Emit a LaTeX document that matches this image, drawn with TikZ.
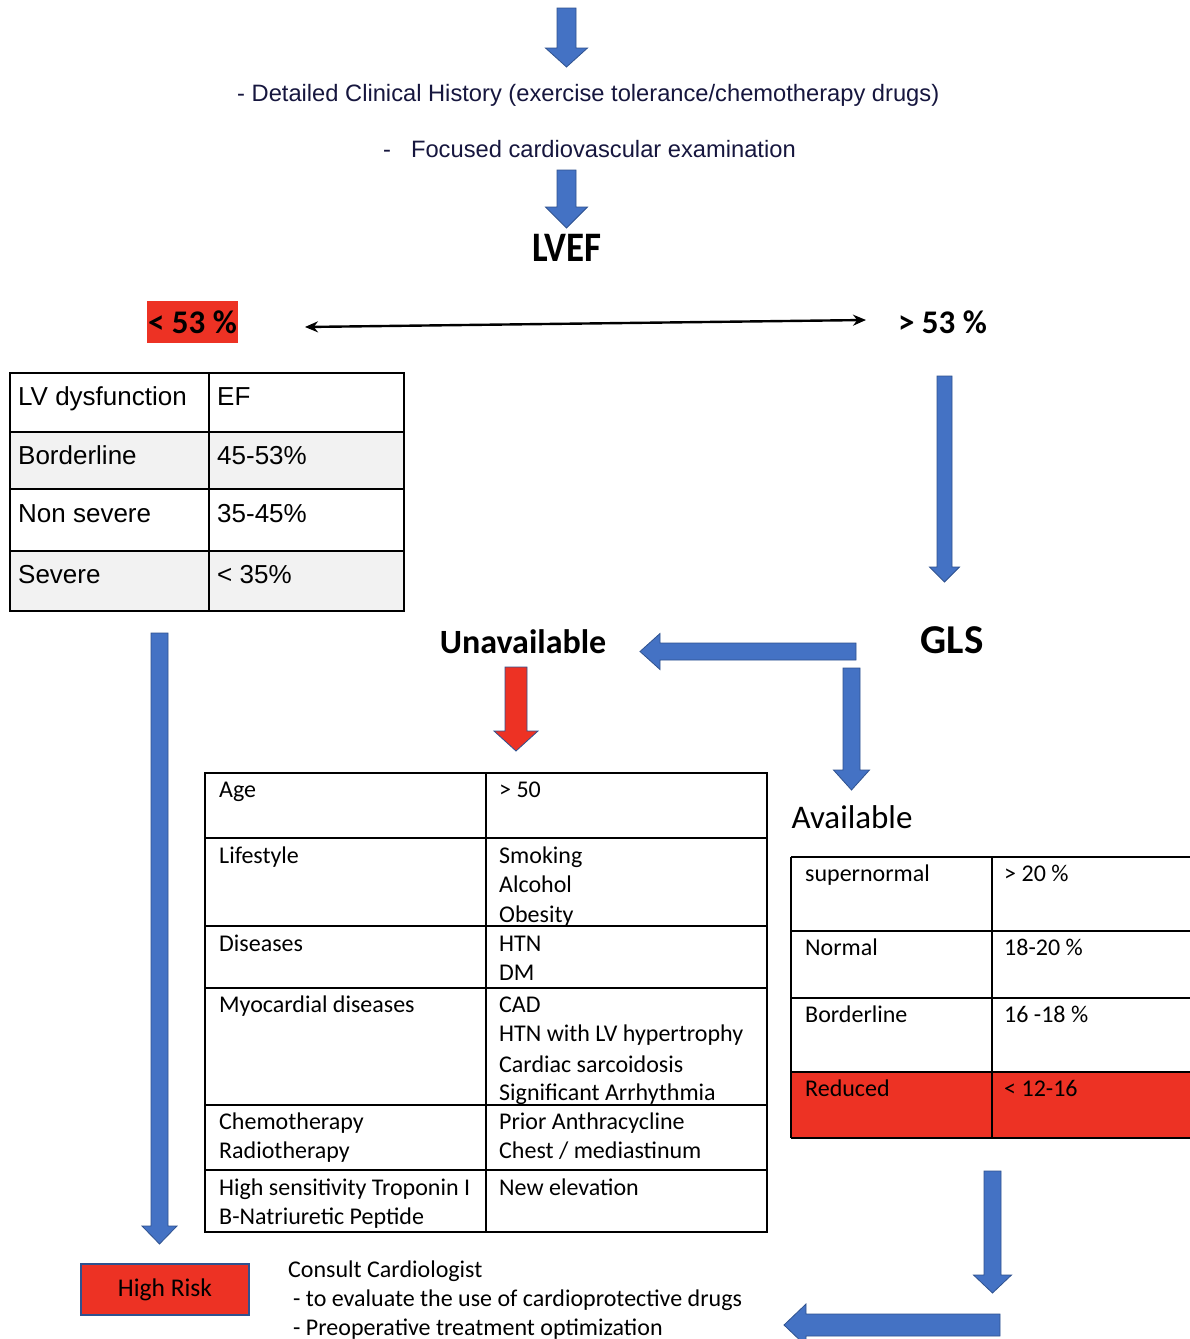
\documentclass[tikz,border=0pt]{standalone}
\usepackage{fontspec}
\setmainfont{Carlito}
\newfontfamily\arialf{Liberation Sans}
\usetikzlibrary{arrows.meta}
\definecolor{blk}{RGB}{68,114,196}
\definecolor{blkedge}{RGB}{47,82,143}
\definecolor{rred}{RGB}{237,50,36}
\definecolor{navy}{RGB}{22,22,62}
\definecolor{lgray}{RGB}{242,242,242}
% down block arrow: [style] x, ytop, ytip, shaft half, head half, head length
\newcommand\dnarrow[7][barrow]{\draw[#1] (#2-#5,#3) -- (#2+#5,#3) -- (#2+#5,#4-#7) -- (#2+#6,#4-#7) -- (#2,#4) -- (#2-#6,#4-#7) -- (#2-#5,#4-#7) -- cycle;}
% left block arrow: [style] ycenter, xright, xtip, shaft half, head half, head length
\newcommand\lfarrow[7][barrow]{\draw[#1] (#3,#2-#5) -- (#3,#2+#5) -- (#4+#7,#2+#5) -- (#4+#7,#2+#6) -- (#4,#2) -- (#4+#7,#2-#6) -- (#4+#7,#2-#5) -- cycle;}
\tikzset{
 barrow/.style={fill=blk, draw=blkedge, line width=0.8pt},
 rarrow/.style={fill=rred, draw=blkedge, line width=0.8pt},
 tline/.style={draw=black, line width=1.8pt},
 lvt/.style={anchor=base west, inner sep=0pt, font=\arialf\fontsize{26}{31}\selectfont},
 ct/.style={anchor=base west, inner sep=0pt, font=\fontsize{24}{29}\selectfont},
 bigb/.style={inner sep=0pt, font=\bfseries\fontsize{33}{40}\selectfont},
 navyt/.style={anchor=base west, inner sep=0pt, text=navy, font=\arialf\fontsize{23.7}{28}\selectfont},
 dbl/.style={{Stealth[length=13pt,width=11pt]}-{Stealth[length=13pt,width=11pt]}, line width=2.4pt},
}
\begin{document}
\begin{tikzpicture}[x=1pt,y=-1pt]
\useasboundingbox (0,0) rectangle (1190,1339);
\fill[white] (0,0) rectangle (1190,1339);
\clip (0,0) rectangle (1190,1339);

% top arrows and text
\dnarrow{566.5}{8}{67}{9.5}{21}{19}
\node[navyt] (hist) at (237,101) {- Detailed Clinical History (exercise tolerance/chemotherapy drugs)};
\node[navyt] (exam) at (383,157) {-\hspace*{20pt}Focused cardiovascular examination};
\dnarrow{566.5}{170}{228}{9.5}{21}{21}
\node[inner sep=0pt, font=\bfseries\fontsize{42}{48}\selectfont] (lvef) at (567,248) {\scalebox{0.88}[1]{LVEF}};

% < 53 % and > 53 %
\node[bigb, fill=rred, minimum width=91pt, minimum height=42pt] (lt) at (192.5,322) {< 53 \%};
\node[bigb] (gt) at (942.5,322) {> 53 \%};
\coordinate (dl) at (305,327);
\coordinate (dr) at (866,320);
\draw[dbl] (dl) -- (dr);

% LV table
\fill[lgray] (10,432) rectangle (404,489);
\fill[lgray] (10,551) rectangle (404,611);
\draw[tline] (10,373) rectangle (404,611);
\draw[tline] (209,373) -- (209,611);
\foreach \yy in {432,489,551} \draw[tline] (10,\yy) -- (404,\yy);
\node[lvt] (lva) at (18,405) {LV dysfunction};
\node[lvt] (lvb) at (217,405) {EF};
\node[lvt] (lvc) at (18,464) {Borderline};
\node[lvt] (lvd) at (217,464) {45-53\%};
\node[lvt] (lve) at (18,522) {Non severe};
\node[lvt] (lvf) at (217,522) {35-45\%};
\node[lvt] (lvg) at (18,583) {Severe};
\node[lvt] (lvh) at (217,583) {< 35\%};

% > 53 down to GLS
\dnarrow{944.5}{376}{582}{7.5}{15}{15}
\node[inner sep=0pt, font=\bfseries\fontsize{41}{48}\selectfont] (gls) at (952,640) {GLS};
\node[inner sep=0pt, font=\bfseries\fontsize{34}{40}\selectfont] (unav) at (523,642) {Unavailable};
\lfarrow{651.5}{856}{640}{8.5}{18}{20}
\dnarrow{851.5}{668}{790}{8.5}{18}{20}
\dnarrow[rarrow]{516}{667}{751}{11}{22}{20}
\node[inner sep=0pt, font=\fontsize{33}{38}\selectfont] (avail) at (852,817) {Available};

% long left arrow
\dnarrow{159.5}{633}{1244}{8.5}{17.5}{18}

% risk table
\draw[tline] (205,773) rectangle (767,1232);
\draw[tline] (486,773) -- (486,1232);
\foreach \yy in {838,926,988,1105,1170} \draw[tline] (205,\yy) -- (767,\yy);
\node[ct] (ra1) at (219,797) {Age};
\node[ct] (ra2) at (499,797) {> 50};
\node[ct] (rb1) at (219,863) {Lifestyle};
\node[ct] (rb2) at (499,863) {Smoking};
\node[ct] (rb3) at (499,892) {Alcohol};
\node[ct] (rb4) at (499,922) {Obesity};
\node[ct] (rc1) at (219,951) {Diseases};
\node[ct] (rc2) at (499,951) {HTN};
\node[ct] (rc3) at (499,980) {DM};
\node[ct] (rd1) at (219,1012) {Myocardial diseases};
\node[ct] (rd2) at (499,1012) {CAD};
\node[ct] (rd3) at (499,1041) {HTN with LV hypertrophy};
\node[ct] (rd4) at (499,1072) {Cardiac sarcoidosis};
\node[ct] (rd5) at (499,1100) {Significant Arrhythmia};
\node[ct] (re1) at (219,1129) {Chemotherapy};
\node[ct] (re2) at (219,1158) {Radiotherapy};
\node[ct] (re3) at (499,1129) {Prior Anthracycline};
\node[ct] (re4) at (499,1158) {Chest / mediastinum};
\node[ct] (rf1) at (219,1195) {High sensitivity Troponin I};
\node[ct] (rf2) at (219,1224) {B-Natriuretic Peptide};
\node[ct] (rf3) at (499,1195) {New elevation};

% GLS table
\fill[rred] (791,1072) rectangle (1200,1138);
\draw[tline] (791,857) -- (1200,857);
\foreach \yy in {931,998,1072,1138} \draw[tline] (791,\yy) -- (1200,\yy);
\draw[tline] (791,857) -- (791,1138);
\draw[tline] (992,857) -- (992,1138);
\node[ct] (ga1) at (805,881) {supernormal};
\node[ct] (ga2) at (1004,881) {> 20 \%};
\node[ct] (gb1) at (805,955) {Normal};
\node[ct] (gb2) at (1004,955) {18-20 \%};
\node[ct] (gc1) at (805,1022) {Borderline};
\node[ct] (gc2) at (1004,1022) {16 -18 \%};
\node[ct] (gd1) at (805,1096) {Reduced};
\node[ct] (gd2) at (1004,1096) {< 12-16};

% bottom
\dnarrow{992.5}{1171}{1293}{8.5}{19}{18}
\lfarrow{1325}{1000}{784}{11}{21}{22}
\node[draw=blkedge, fill=rred, line width=1.5pt, minimum width=168pt, minimum height=51pt, inner sep=0pt, font=\fontsize{25.5}{30}\selectfont] (risk) at (165,1289.5) {High Risk};
\node[ct] (cons1) at (288,1277) {Consult Cardiologist};
\node[ct] (cons2) at (293,1306) {- to evaluate the use of cardioprotective drugs};
\node[ct] (cons3) at (293,1335) {- Preoperative treatment optimization};
\end{tikzpicture}
\end{document}
